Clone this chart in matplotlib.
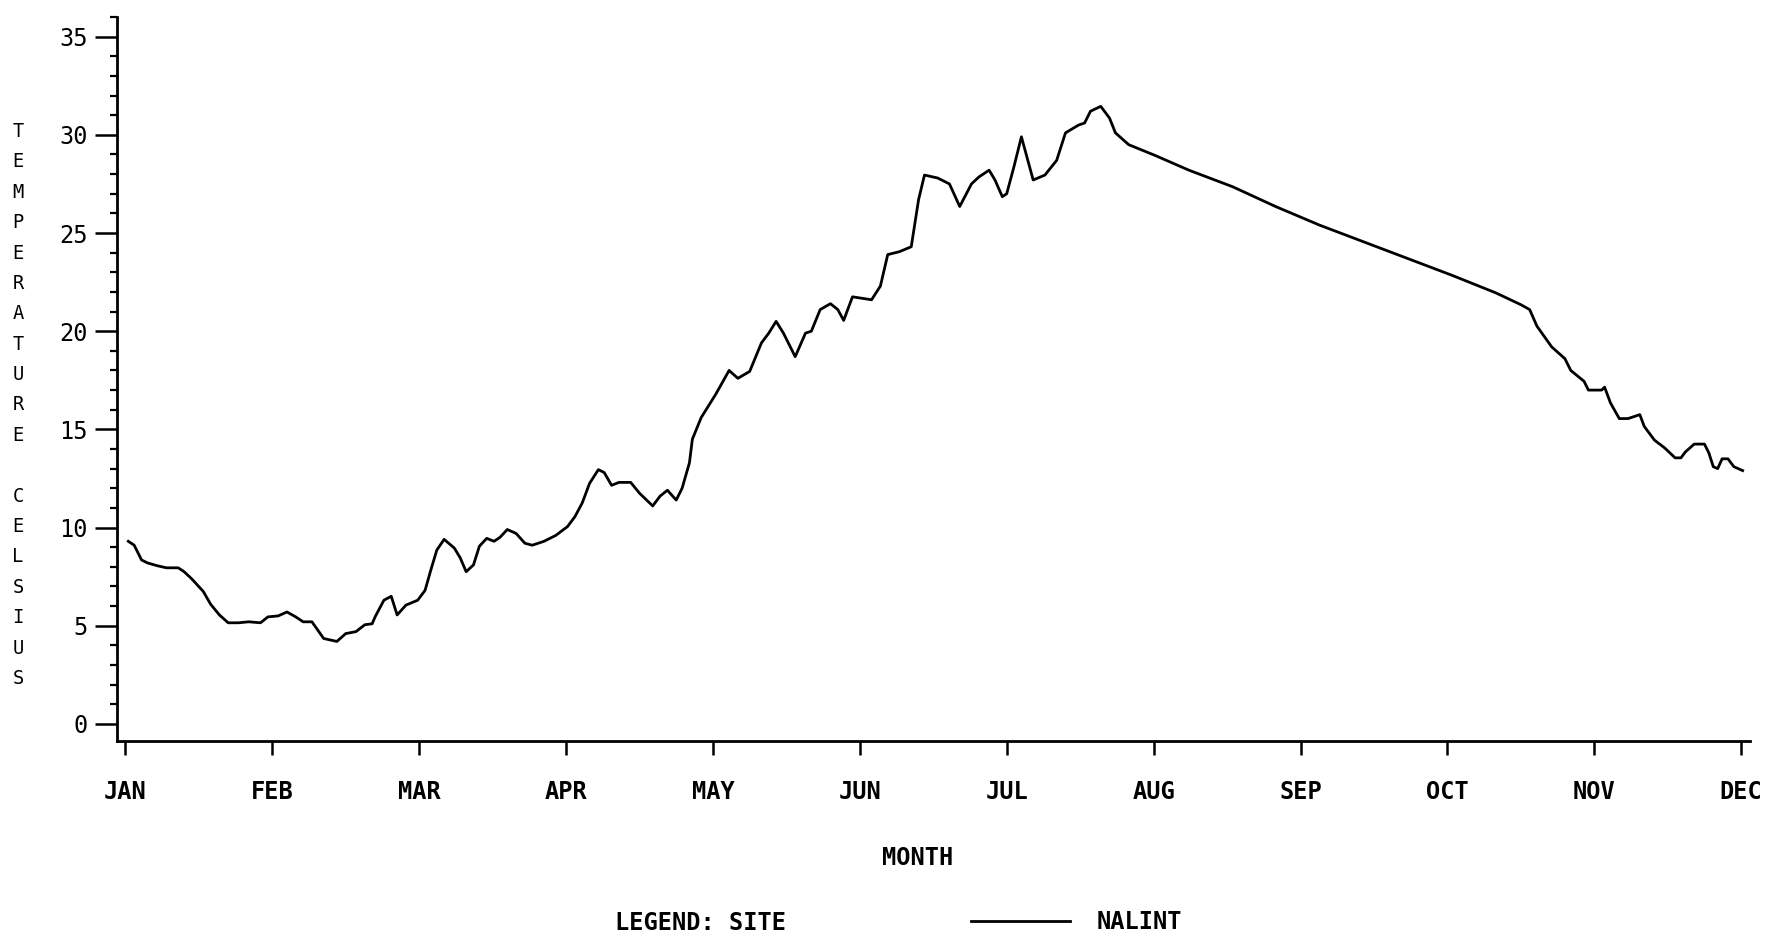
import matplotlib
matplotlib.use("Agg")
import matplotlib.pyplot as plt
from matplotlib.ticker import MultipleLocator

# ---- data (month position: 0 = JAN tick, 11 = DEC tick) ----
month_labels = ["JAN", "FEB", "MAR", "APR", "MAY", "JUN",
                "JUL", "AUG", "SEP", "OCT", "NOV", "DEC"]
y_ticks = [0, 5, 10, 15, 20, 25, 30, 35]
y_tick_labels = ["0", "5", "10", "15", "20", "25", "30", "35"]
series_name = "NALINT"

month_pos = [
    0.02, 0.06, 0.11, 0.15, 0.22, 0.28, 0.36, 0.40, 0.45, 0.53, 0.58, 0.64,
    0.70, 0.77, 0.84, 0.92, 0.97, 1.04, 1.10, 1.16, 1.21, 1.27, 1.35, 1.44,
    1.50, 1.57, 1.63, 1.68, 1.70, 1.76, 1.81, 1.85, 1.91, 1.99, 2.04, 2.08,
    2.12, 2.17, 2.24, 2.28, 2.32, 2.37, 2.41, 2.46, 2.51, 2.55, 2.60, 2.66,
    2.72, 2.77, 2.85, 2.93, 3.01, 3.06, 3.11, 3.16, 3.22, 3.26, 3.31, 3.36,
    3.44, 3.50, 3.59, 3.64, 3.69, 3.75, 3.79, 3.84, 3.86, 3.92, 4.02, 4.11,
    4.17, 4.25, 4.33, 4.38, 4.43, 4.48, 4.56, 4.63, 4.67, 4.73, 4.80, 4.85,
    4.89, 4.95, 5.08, 5.14, 5.19, 5.27, 5.35, 5.40, 5.44, 5.53, 5.61, 5.68,
    5.76, 5.81, 5.88, 5.92, 5.97, 6.00, 6.05, 6.10, 6.18, 6.26, 6.34, 6.40,
    6.49, 6.53, 6.57, 6.64, 6.70, 6.74, 6.83, 7.01, 7.24, 7.54, 7.83, 8.13,
    8.43, 8.73, 9.03, 9.33, 9.50, 9.56, 9.61, 9.71, 9.80, 9.84, 9.93, 9.96,
    10.05, 10.07, 10.11, 10.17, 10.23, 10.31, 10.34, 10.41, 10.48, 10.55,
    10.59, 10.62, 10.68, 10.75, 10.78, 10.81, 10.84, 10.87, 10.91, 10.95,
    11.01,
]
temperature = [
    9.30, 9.10, 8.35, 8.20, 8.05, 7.95, 7.95, 7.75, 7.40, 6.75, 6.10, 5.55,
    5.15, 5.15, 5.20, 5.15, 5.45, 5.50, 5.70, 5.45, 5.20, 5.20, 4.35, 4.20,
    4.60, 4.70, 5.05, 5.10, 5.45, 6.30, 6.50, 5.55, 6.05, 6.30, 6.80, 7.85,
    8.85, 9.40, 8.95, 8.45, 7.75, 8.10, 9.05, 9.45, 9.30, 9.50, 9.90, 9.70,
    9.20, 9.10, 9.30, 9.60, 10.05, 10.55, 11.25, 12.25, 12.95, 12.80, 12.15, 12.30,
    12.30, 11.75, 11.10, 11.60, 11.90, 11.40, 12.00, 13.30, 14.50, 15.60, 16.80, 18.00,
    17.60, 17.95, 19.40, 19.90, 20.50, 19.90, 18.70, 19.90, 20.00, 21.10, 21.40, 21.10,
    20.55, 21.75, 21.60, 22.30, 23.90, 24.05, 24.30, 26.70, 27.95, 27.80, 27.50, 26.35,
    27.50, 27.85, 28.20, 27.70, 26.85, 27.00, 28.40, 29.90, 27.70, 27.95, 28.70, 30.10,
    30.50, 30.60, 31.20, 31.45, 30.85, 30.10, 29.50, 28.95, 28.20, 27.35, 26.35, 25.40,
    24.55, 23.70, 22.85, 21.95, 21.35, 21.10, 20.25, 19.20, 18.60, 18.00, 17.45, 17.00,
    17.00, 17.15, 16.35, 15.55, 15.55, 15.75, 15.15, 14.45, 14.05, 13.55,
    13.55, 13.85, 14.25, 14.25, 13.80, 13.10, 13.00, 13.50, 13.50, 13.10,
    12.90,
]

# ---- figure ----
W, H = 1787, 941
fig = plt.figure(figsize=(W / 100, H / 100), dpi=100)
fig.patch.set_facecolor("white")

mono = ["DejaVu Sans Mono"]
ax = fig.add_axes([117 / W, 1 - 741 / H, (1750 - 117) / W, (741 - 17) / H])
ax.set_facecolor("white")

line, = ax.plot(month_pos, temperature, color="black", lw=2.0,
                solid_joinstyle="round", label=series_name)

ax.set_xlim(-0.057, 11.06)
ax.set_ylim(-0.87, 36.0)

for s in ("top", "right"):
    ax.spines[s].set_visible(False)
for s in ("left", "bottom"):
    ax.spines[s].set_linewidth(2.0)
    ax.spines[s].set_color("black")

ax.set_xticks(range(len(month_labels)))
ax.set_xticklabels(month_labels, fontfamily=mono, fontsize=17, fontweight="bold")
ax.set_yticks(y_ticks)
ax.set_yticklabels(y_tick_labels, fontfamily=mono, fontsize=17)
ax.yaxis.set_minor_locator(MultipleLocator(1))

ax.tick_params(axis="x", which="major", direction="out", length=10, width=1.8,
               pad=18, colors="black")
ax.tick_params(axis="y", which="major", direction="out", length=16, width=1.8,
               pad=5, colors="black")
ax.tick_params(axis="y", which="minor", direction="out", length=5, width=1.6,
               colors="black")

# stacked vertical y label
fig.text(18 / W, 1 - 405 / H, "\n".join("TEMPERATURE CELSIUS"),
         ha="center", va="center", fontfamily=mono, fontsize=13.5,
         linespacing=1.76, color="black")

# x label
fig.text(918 / W, 1 - 858 / H, "MONTH", ha="center", va="center",
         fontfamily=mono, fontsize=17, fontweight="bold", color="black")

# legend
fig.text(615 / W, 1 - 923 / H, "LEGEND: SITE", ha="left", va="center",
         fontfamily=mono, fontsize=17, fontweight="bold", color="black")
leg = fig.legend(handles=[line], labels=[series_name], loc="center left",
                 bbox_to_anchor=(971 / W, 1 - 922 / H), frameon=False,
                 borderpad=0, borderaxespad=0, handlelength=4.2,
                 handletextpad=1.1,
                 prop={"family": mono, "size": 17, "weight": "bold"})

fig.savefig("out.png", dpi=100, facecolor="white")
